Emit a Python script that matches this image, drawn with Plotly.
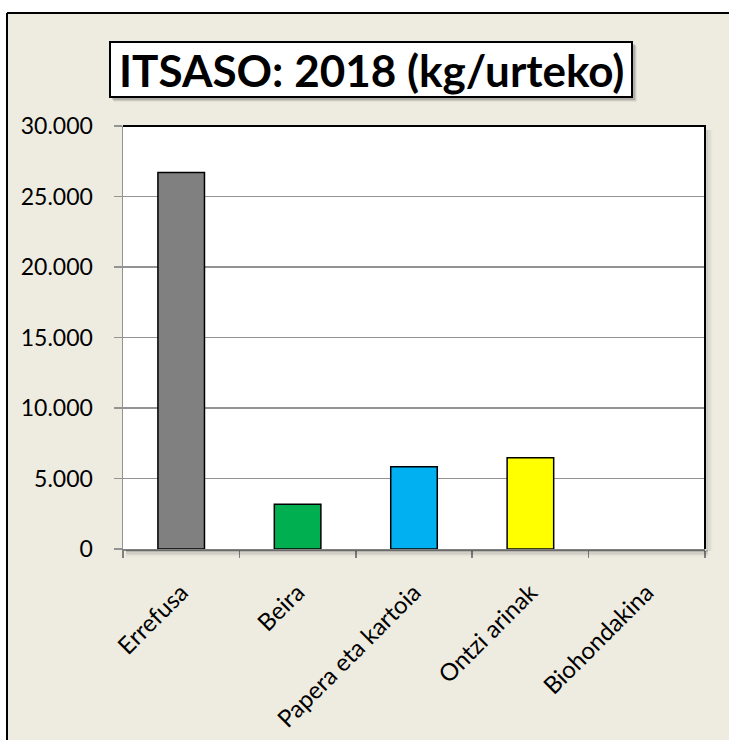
import plotly.graph_objects as go

categories = ["Errefusa", "Beira", "Papera eta kartoia", "Ontzi arinak", "Biohondakina"]
values = [26700, 3170, 5840, 6480, 0]
bar_colors = ["#808080", "#00B050", "#00B0F0", "#FFFF00", "#FFFFFF"]
bar_line_widths = [1.5, 1.5, 1.5, 1.5, 0]
title_text = "ITSASO: 2018 (kg/urteko)"

W, H = 729, 740
L, R, T, B = 123, 705, 126, 549
pw, ph = R - L, B - T


def px(x):
    return (x - L) / pw


def py(y):
    return (B - y) / ph


FONT = "Lato"

fig = go.Figure(
    go.Bar(
        x=categories,
        y=values,
        marker=dict(color=bar_colors, line=dict(color="black", width=bar_line_widths)),
        width=0.4,
        hoverinfo="skip",
    )
)

shapes = []
# white outside the outer frame
shapes.append(dict(type="rect", xref="paper", yref="paper", x0=px(-50), x1=px(800),
                   y0=py(13), y1=py(-50), fillcolor="white", line=dict(width=0), layer="below"))
shapes.append(dict(type="rect", xref="paper", yref="paper", x0=px(-50), x1=px(7),
                   y0=py(800), y1=py(-50), fillcolor="white", line=dict(width=0), layer="below"))
# outer frame lines
shapes.append(dict(type="line", xref="paper", yref="paper", x0=px(7), x1=px(800),
                   y0=py(13), y1=py(13), line=dict(color="black", width=2)))
shapes.append(dict(type="line", xref="paper", yref="paper", x0=px(7), x1=px(7),
                   y0=py(13), y1=py(800), line=dict(color="black", width=2)))
# plot area shadow
for i, op in enumerate([0.18, 0.12, 0.07, 0.03]):
    shapes.append(dict(type="line", xref="paper", yref="paper", x0=px(123 + 3), x1=px(705 + 3),
                       y0=py(549 + 2 + i * 1.5), y1=py(549 + 2 + i * 1.5),
                       line=dict(color="rgba(0,0,0,%s)" % op, width=2)))
    shapes.append(dict(type="line", xref="paper", yref="paper", x0=px(705 + 2 + i * 1.5), x1=px(705 + 2 + i * 1.5),
                       y0=py(126 + 4), y1=py(549 + 2),
                       line=dict(color="rgba(0,0,0,%s)" % (op * 0.6), width=2)))
# plot area top / right black border
shapes.append(dict(type="path", xref="paper", yref="paper",
                   path="M 0,1 L 1,1 L 1,0", line=dict(color="black", width=2)))
# title box shadow + box
for i, op in enumerate([0.14, 0.09, 0.05]):
    shapes.append(dict(type="rect", xref="paper", yref="paper",
                       x0=px(110 + 2 + i), x1=px(632 + 3 + i), y0=py(97 + 3 + i), y1=py(42 + 2 + i),
                       fillcolor="rgba(0,0,0,%s)" % op, line=dict(width=0)))
shapes.append(dict(type="rect", xref="paper", yref="paper",
                   x0=px(110), x1=px(632), y0=py(97), y1=py(42),
                   fillcolor="white", line=dict(color="black", width=2)))

fig.update_layout(
    width=W,
    height=H,
    margin=dict(l=L, r=W - R, t=T, b=H - B, pad=0, autoexpand=False),
    paper_bgcolor="#EEECE1",
    plot_bgcolor="white",
    separators=",.",
    showlegend=False,
    bargap=0.6,
    font=dict(family=FONT, color="black"),
    shapes=shapes,
    annotations=[
        dict(text="<b>%s</b>" % title_text, xref="paper", yref="paper",
             x=px(371), y=py(70), xanchor="center", yanchor="middle",
             showarrow=False, font=dict(family=FONT, size=44, color="black"))
    ],
    xaxis=dict(
        showgrid=False,
        showline=True, linecolor="#808080", linewidth=2,
        ticks="outside", tickson="boundaries", ticklen=7, tickcolor="#808080", tickwidth=1.5,
        tickangle=-45,
        tickfont=dict(family=FONT, size=24, color="black"),
        ticklabelstandoff=18,
        fixedrange=True,
        automargin=False,
    ),
    yaxis=dict(
        range=[0, 30000], dtick=5000, tickformat=",d",
        showgrid=True, gridcolor="#939393", gridwidth=1.5,
        showline=True, linecolor="#939393", linewidth=1.5,
        ticks="outside", ticklen=8, tickcolor="#939393", tickwidth=1.5,
        tickfont=dict(family=FONT, size=23, color="black"),
        ticklabelstandoff=16,
        zeroline=False,
        fixedrange=True,
        automargin=False,
    ),
)

fig.write_html(
    "out.html",
    config={"displayModeBar": False, "staticPlot": True},
    post_script="document.body.style.margin='0';document.body.style.overflow='hidden';",
)
